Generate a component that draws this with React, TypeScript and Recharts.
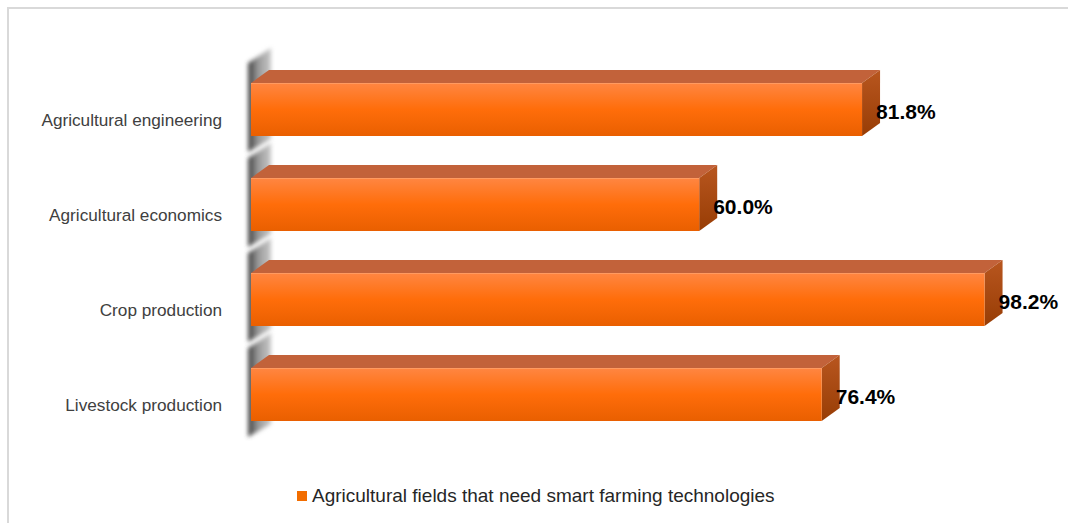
import React from 'react';
import { BarChart, Bar, XAxis, YAxis, LabelList, Legend } from 'recharts';

const categories: string[] = [
  'Agricultural engineering',
  'Agricultural economics',
  'Crop production',
  'Livestock production',
];
const values: number[] = [81.8, 60.0, 98.2, 76.4];
const seriesName = 'Agricultural fields that need smart farming technologies';
const xTicks: number[] = [0, 20, 40, 60, 80, 100];

const data = categories.map((c, i) => ({ category: c, value: values[i] }));

const FONT = '"Liberation Sans", Arial, Helvetica, sans-serif';
const DX = 18;
const DY = 13;

function Bar3D(props: any) {
  const { x, y, width, height } = props;
  if (width == null || height == null) return null;
  const wx0 = x - 3;
  const wx1 = x + 20;
  const wallPts = [
    [wx0, y - 20],
    [wx1, y - 35],
    [wx1, y + height + 3],
    [wx0, y + height + 16],
  ]
    .map((p) => p.join(','))
    .join(' ');
  const top = [
    [x, y],
    [x + DX, y - DY],
    [x + width + DX, y - DY],
    [x + width, y],
  ]
    .map((p) => p.join(','))
    .join(' ');
  const side = [
    [x + width, y],
    [x + width + DX, y - DY],
    [x + width + DX, y + height - DY],
    [x + width, y + height],
  ]
    .map((p) => p.join(','))
    .join(' ');
  return (
    <g>
      <polygon points={wallPts} fill="url(#wallGrad)" filter="url(#wallBlur)" />
      <polygon points={top} fill="#c2623a" />
      <polygon points={side} fill="url(#sideGrad)" />
      <rect x={x} y={y} width={width} height={height} fill="url(#frontGrad)" />
      <line x1={x} y1={y + 0.5} x2={x + width} y2={y + 0.5} stroke="#ff9a60" strokeWidth={1} />
    </g>
  );
}

function CatTick(props: any) {
  const { x, y, payload } = props;
  return (
    <text x={x} y={y} dy={16} textAnchor="end" fontSize={17.2} fill="#404040" fontFamily={FONT}>
      {payload.value}
    </text>
  );
}

function ValueLabel(props: any) {
  const { x, y, width, height, value } = props;
  return (
    <text
      x={x + width + 14}
      y={y + height / 2}
      dy={9}
      textAnchor="start"
      fontFamily={FONT}
      fontSize={21}
      fontWeight={700}
      fill="#000000"
    >
      {`${Number(value).toFixed(1)}%`}
    </text>
  );
}

function LegendContent() {
  return (
    <div
      style={{
        display: 'flex',
        alignItems: 'center',
        justifyContent: 'flex-start',
        paddingLeft: 297,
        fontFamily: FONT,
        fontSize: 19,
        color: '#262626',
        height: 24,
      }}
    >
      <span style={{ display: 'inline-block', width: 10, height: 10, background: '#f26d00', marginRight: 5 }} />
      <span>{seriesName}</span>
    </div>
  );
}

export default function App() {
  return (
    <div
      style={{
        position: 'fixed',
        left: 0,
        top: 0,
        width: 1068,
        height: 523,
        background: '#ffffff',
        overflow: 'hidden',
      }}
    >
      <div
        style={{
          position: 'absolute',
          left: 7,
          top: 7,
          width: 1200,
          height: 700,
          borderTop: '2px solid #d9d9d9',
          borderLeft: '2px solid #d9d9d9',
          boxSizing: 'border-box',
        }}
      />
      <div style={{ position: 'absolute', left: 0, top: 0 }}>
        <BarChart
          width={1068}
          height={523}
          data={data}
          layout="vertical"
          margin={{ top: 62, right: 70, bottom: 57, left: 0 }}
        >
          <defs>
            <linearGradient id="frontGrad" x1="0" y1="0" x2="0" y2="1">
              <stop offset="0%" stopColor="#ff8642" />
              <stop offset="50%" stopColor="#ff6d0a" />
              <stop offset="100%" stopColor="#e95f00" />
            </linearGradient>
            <linearGradient id="sideGrad" x1="0" y1="0" x2="0" y2="1">
              <stop offset="0%" stopColor="#b8561f" />
              <stop offset="100%" stopColor="#983d05" />
            </linearGradient>
            <linearGradient id="wallGrad" x1="0" y1="0" x2="1" y2="0">
              <stop offset="0%" stopColor="#3c3c3c" />
              <stop offset="45%" stopColor="#9a9a9a" />
              <stop offset="100%" stopColor="#c8c8c8" />
            </linearGradient>
            <filter id="wallBlur" x="-50%" y="-20%" width="200%" height="140%">
              <feGaussianBlur stdDeviation="2.2" />
            </filter>
          </defs>
          <XAxis type="number" domain={[0, 100]} ticks={xTicks} hide />
          <YAxis
            type="category"
            dataKey="category"
            width={251}
            axisLine={false}
            tickLine={false}
            tickSize={0}
            tickMargin={29}
            tick={<CatTick />}
            interval={0}
          />
          <Legend
            verticalAlign="bottom"
            content={() => <LegendContent />}
            wrapperStyle={{ position: 'absolute', left: 0, top: 484, width: 1068, bottom: 'auto' }}
          />
          <Bar
            dataKey="value"
            name={seriesName}
            barSize={53}
            shape={<Bar3D />}
            isAnimationActive={false}
          >
            <LabelList dataKey="value" content={<ValueLabel />} />
          </Bar>
        </BarChart>
      </div>
    </div>
  );
}
